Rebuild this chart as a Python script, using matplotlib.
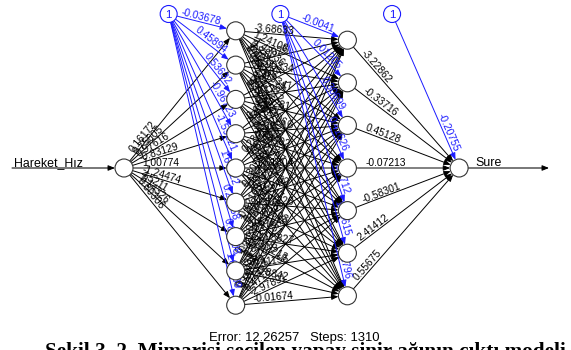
import numpy as np
import matplotlib
matplotlib.use("Agg")
import matplotlib.pyplot as plt
from matplotlib.patches import Circle

# ---------------- data ----------------
input_name = "Hareket_Hız"
output_name = "Sure"
layer_sizes = [1, 9, 7, 1]

w_in_h1 = [0.16172, 0.75605, 0.97616, -0.83129, 1.00774, -1.24474, 4.52110, 0.14326, 0.80306]
b_h1 = [-0.03678, 0.45894, 0.53632, -0.96723, -1.59221, 1.66122, 0.29958, 0.84708, 1.67439]

w_h1_h2 = [
    [-3.68633, 1.24108, -1.42036, 0.87334, -0.52107, 1.09476, 0.33812],
    [1.52026, -0.90334, 2.11834, -0.47712, 0.65021, -1.30558, 0.21469],
    [0.93334, -1.12647, 0.40281, 1.87106, -0.76943, 0.52218, -2.04315],
    [-0.61870, 1.77334, -0.25516, 0.94402, 1.31067, -0.83951, 0.46620],
    [0.28411, -0.55193, 1.06235, -1.61804, 0.39752, 2.20147, -0.71236],
    [1.13059, 0.68207, -0.94718, 0.15344, -1.47226, 0.80593, 1.25981],
    [-0.42168, 1.38824, 0.57092, -0.29035, 0.97648, -1.05827, 0.62213],
    [0.74502, -0.31269, 1.49517, 0.86301, 1.76480, 0.41158, -0.88420],
    [0.52034, 0.19466, -1.21785, 1.02963, 0.47180, -2.97891, -0.01674],
]
b_h2 = [-0.0041, 0.01205, 0.30699, 0.41626, 0.7712, 1.14615, 0.1796]

w_h2_out = [-3.22862, -0.33716, 0.45128, -0.07213, -0.58301, 2.41412, 0.55675]
b_out = [-0.20755]

error_value = 12.26257
steps_value = 1310
caption = "Şekil 3. 2. Mimarisi seçilen yapay sinir ağının çıktı modeli"

# ---------------- layout ----------------
W, H = 571, 350
fig = plt.figure(figsize=(W / 100, H / 100), dpi=100)
ax = fig.add_axes([0, 0, 1, 1])
ax.set_xlim(0, W)
ax.set_ylim(H, 0)
ax.axis("off")

FONT = "Liberation Sans"
PT = 0.72  # points per pixel
R = 9.0
RB = 8.5
BLUE = "#1a1aff"
x0, dx = 124.0, 111.7
yc = 168.0
spacing = {1: 0.0, 9: 34.3, 7: 42.6}
y_bias = 14.0
intercept_factor = 0.4
ARROW = "-|>,head_length=0.5,head_width=0.2"

layer_x = [x0 + k * dx for k in range(len(layer_sizes))]
pos = []
for k, n in enumerate(layer_sizes):
    pos.append([(layer_x[k], yc + (i - (n - 1) / 2) * spacing[n]) for i in range(n)])
bias_pos = [(layer_x[k] + intercept_factor * dx, y_bias) for k in range(len(layer_sizes) - 1)]


def fmt(v):
    return f"{round(v, 5):.5f}".rstrip("0").rstrip(".")


def edge(p1, p2, label, color, bias=False, r_src=R, r_dst=R):
    x1, y1 = p1
    x2, y2 = p2
    L = np.hypot(x2 - x1, y2 - y1)
    ux, uy = (x2 - x1) / L, (y2 - y1) / L
    start = (x1 + ux * r_src, y1 + uy * r_src)
    end = (x2 - ux * r_dst, y2 - uy * r_dst)
    ax.annotate("", xy=end, xytext=start,
                arrowprops=dict(arrowstyle=ARROW, mutation_scale=8, lw=0.7, color=color,
                                shrinkA=0, shrinkB=0), zorder=2)
    ang = np.degrees(np.arctan2(-(y2 - y1), x2 - x1))
    nx, ny = uy, -ux
    off = 1.6
    if not bias:
        d = 18.0
        tx, ty = x1 + ux * d + nx * off, y1 + uy * d + ny * off
        ha = "left"
    else:
        d = 16.5
        tx, ty = x2 - ux * d + nx * off, y2 - uy * d + ny * off
        ha = "right"
    ax.text(tx, ty, label, rotation=ang, rotation_mode="anchor", ha=ha, va="baseline",
            fontsize=10.2 * PT, family=FONT, color=color, zorder=3)


# input -> hidden1
for j, w in enumerate(w_in_h1):
    edge(pos[0][0], pos[1][j], fmt(w), "black")
# hidden1 -> hidden2
for i in range(layer_sizes[1]):
    for j in range(layer_sizes[2]):
        edge(pos[1][i], pos[2][j], fmt(w_h1_h2[i][j]), "black")
# hidden2 -> output
for i, w in enumerate(w_h2_out):
    edge(pos[2][i], pos[3][0], fmt(w), "black")
# bias edges
for j, w in enumerate(b_h1):
    edge(bias_pos[0], pos[1][j], fmt(w), BLUE, bias=True, r_src=RB)
for j, w in enumerate(b_h2):
    edge(bias_pos[1], pos[2][j], fmt(w), BLUE, bias=True, r_src=RB)
edge(bias_pos[2], pos[3][0], fmt(b_out[0]), BLUE, bias=True, r_src=RB)

# nodes
for layer in pos:
    for (x, y) in layer:
        ax.add_patch(Circle((x, y), R, facecolor="white", edgecolor="#333333", lw=0.8, zorder=4))
for (x, y) in bias_pos:
    ax.add_patch(Circle((x, y), RB, facecolor="white", edgecolor=BLUE, lw=0.8, zorder=4))
    ax.text(x, y + 0.5, "1", ha="center", va="center", fontsize=11.5 * PT, family=FONT,
            color=BLUE, zorder=5)

# input / output arrows
xi, yi = pos[0][0]
ax.annotate("", xy=(xi - R, yi), xytext=(12, yi),
            arrowprops=dict(arrowstyle=ARROW, mutation_scale=8, lw=0.75, color="black",
                            shrinkA=0, shrinkB=0))
ax.text(14, yi - 2.2, input_name, ha="left", va="baseline", fontsize=12.4 * PT, family=FONT)
xo, yo = pos[3][0]
ax.annotate("", xy=(549, yo), xytext=(xo + R, yo),
            arrowprops=dict(arrowstyle=ARROW, mutation_scale=8, lw=0.75, color="black",
                            shrinkA=0, shrinkB=0))
ax.text(475, yo - 2.2, output_name, ha="left", va="baseline", fontsize=12.4 * PT, family=FONT)

# error / steps
ax.text(294, 340.5, f"Error: {error_value}   Steps: {steps_value}", ha="center", va="baseline",
        fontsize=13.0 * PT, family=FONT)

# caption at bottom: only the top of its letters falls inside the picture
t = ax.text(45, 360, caption, ha="left", va="baseline", fontsize=17 * PT,
            family="Liberation Serif", fontweight="bold", clip_on=False)
fig.canvas.draw()
bb = t.get_window_extent(renderer=fig.canvas.get_renderer())
new_px = 17.0 * 522.0 / bb.width
t.set_fontsize(new_px * PT)
t.set_position((45, 343.0 + 0.66 * new_px))

fig.savefig("out.png", dpi=100)
